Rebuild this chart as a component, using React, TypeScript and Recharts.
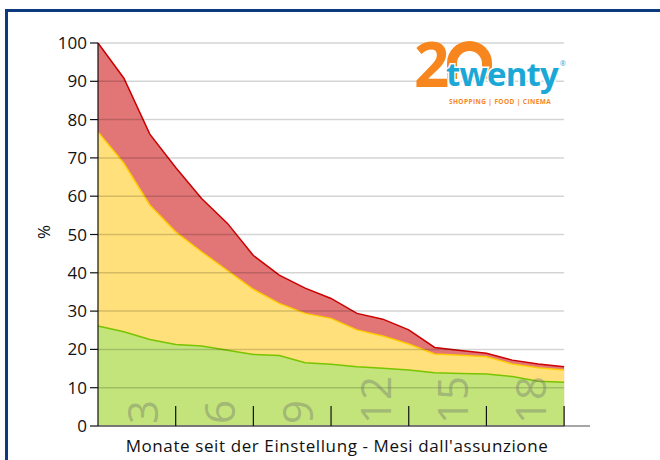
import React from "react";
import { Area, AreaChart, ReferenceLine, XAxis, YAxis } from "recharts";

const months = [0, 1, 2, 3, 4, 5, 6, 7, 8, 9, 10, 11, 12, 13, 14, 15, 16, 17, 18];
const red = [100, 90.8, 76.2, 67.5, 59.4, 52.9, 44.5, 39.4, 36.0, 33.3, 29.4, 27.9, 25.1, 20.5, 19.7, 19.0, 17.2, 16.2, 15.5];
const yellow = [76.8, 68.6, 57.7, 50.7, 45.5, 40.6, 35.7, 32.0, 29.4, 28.1, 25.1, 23.5, 21.4, 18.8, 18.5, 18.1, 16.2, 15.2, 14.6];
const green = [26.1, 24.6, 22.6, 21.3, 20.9, 19.8, 18.7, 18.4, 16.5, 16.1, 15.5, 15.1, 14.6, 13.9, 13.7, 13.6, 12.9, 11.7, 11.4];

const xTicks = [3, 6, 9, 12, 15, 18];
const yTicks = [0, 10, 20, 30, 40, 50, 60, 70, 80, 90, 100];

const FONT = "'Open Sans', sans-serif";

const data = months.map((m, i) => ({ month: m, red: red[i], yellow: yellow[i], green: green[i] }));

function MonthTick(props: any) {
  const { x, y, payload } = props;
  const tx = x - 18;
  const ty = y - 2;
  return (
    <g>
      <line x1={x} y1={y} x2={x} y2={y - 20} stroke="#111" strokeWidth={1.2} />
      <text
        x={tx}
        y={ty}
        transform={`rotate(-90 ${tx} ${ty})`}
        fontSize={42}
        fontFamily={FONT}
        fill="#6f6f6f"
        fillOpacity={0.4}
        textAnchor="start"
      >
        {payload.value}
      </text>
    </g>
  );
}

export default function App() {
  return (
    <div style={{ position: "absolute", left: 0, top: 0, width: 660, height: 460, background: "#fff", overflow: "hidden" }}>
      <div
        style={{
          position: "absolute",
          left: 5,
          top: 9,
          width: 700,
          height: 500,
          boxSizing: "border-box",
          borderTop: "3px solid #0b3a7e",
          borderLeft: "3px solid #0b3a7e"
        }}
      />
      <div style={{ position: "absolute", left: 0, top: 0 }}>
        <AreaChart width={660} height={460} data={data} margin={{ top: 43, right: 70, bottom: 0, left: 0 }}>
          <XAxis
            type="number"
            dataKey="month"
            domain={[0, 19]}
            ticks={xTicks}
            tick={<MonthTick />}
            tickLine={false}
            tickSize={0}
            tickMargin={0}
            axisLine={{ stroke: "#888", strokeWidth: 1.5 }}
            height={34}
            label={{
              value: "Monate seit der Einstellung - Mesi dall'assunzione",
              position: "insideBottom",
              offset: 8,
              dx: -7,
              fontSize: 17,
              fontFamily: FONT,
              fill: "#111",
              letterSpacing: 0.6
            }}
          />
          <YAxis
            type="number"
            domain={[0, 100]}
            ticks={yTicks}
            width={98}
            tickSize={8}
            tickMargin={3}
            tick={{ fontSize: 17, fontFamily: FONT, fill: "#111" }}
            tickLine={{ stroke: "#111", strokeWidth: 1.2 }}
            axisLine={{ stroke: "#111", strokeWidth: 1.2 }}
          />
          <Area type="linear" dataKey="red" stroke="#cc0000" strokeWidth={1.5} fill="#e27575" fillOpacity={1} isAnimationActive={false} />
          <Area type="linear" dataKey="yellow" stroke="#ffcc00" strokeWidth={1.5} fill="#ffe07a" fillOpacity={1} isAnimationActive={false} />
          <Area type="linear" dataKey="green" stroke="#77c400" strokeWidth={1.5} fill="#c2e47a" fillOpacity={1} isAnimationActive={false} />
          {yTicks.slice(1).map((v) => (
            <ReferenceLine
              key={v}
              segment={[{ x: 0, y: v }, { x: 18, y: v }]}
              stroke="#000"
              strokeOpacity={0.17}
              strokeWidth={1.5}
            />
          ))}
          <ReferenceLine segment={[{ x: 0, y: 0 }, { x: 18, y: 0 }]} stroke="#111" strokeWidth={1.5} />
        </AreaChart>
      </div>
      <svg width={660} height={460} style={{ position: "absolute", left: 0, top: 0, pointerEvents: "none" }}>
        <text x={43} y={232} transform="rotate(-90 43 232)" textAnchor="middle" dominantBaseline="central" fontSize={17} fontFamily={FONT} fill="#111">
          %
        </text>
        <text x={414} y={87} fontSize={62} fontWeight={700} fontFamily={FONT} fill="#f7861f">
          2
        </text>
        <path d="M 452 79 L 452 63.5 A 17.5 17.5 0 0 1 487 63.5 L 487 79" fill="none" stroke="#f7861f" strokeWidth={10} />
        <text
          x={446}
          y={86}
          fontSize={33}
          fontWeight={700}
          fontFamily={FONT}
          fill="#1ba8d6"
          stroke="#fff"
          strokeWidth={3}
          style={{ paintOrder: "stroke" }}
          letterSpacing={-0.8}
        >
          twenty
        </text>
        <text x={560} y={66} fontSize={7} fontFamily={FONT} fill="#1ba8d6">
          ®
        </text>
        <text x={449} y={104} fontSize={6.5} fontWeight={700} fontFamily={FONT} fill="#f7861f" letterSpacing={0.4}>
          SHOPPING | FOOD | CINEMA
        </text>
      </svg>
    </div>
  );
}
